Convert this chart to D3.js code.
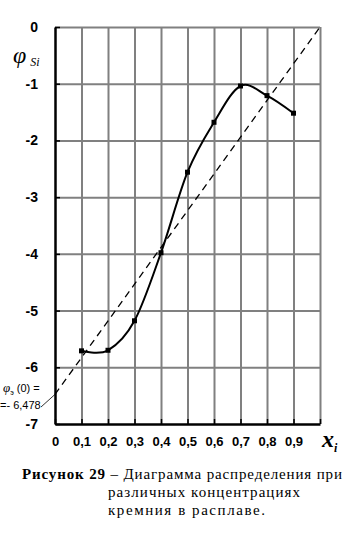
<!DOCTYPE html>
<html>
<head>
<meta charset="utf-8">
<script src="https://cdn.jsdelivr.net/npm/d3@7"></script>
<style>
body { margin: 0; background: #fff; }
svg { display: block; }
.tick-lbl { font-family: Arial, "Liberation Sans", sans-serif; font-weight: bold; }
.serif { font-family: "Times New Roman", "Liberation Serif", serif; }
</style>
</head>
<body>
<svg id="chart" width="353" height="551"></svg>
<script>
// concentration of Si in the melt
var xValues = [0.1, 0.2, 0.3, 0.4, 0.5, 0.6, 0.7, 0.8, 0.9];
// distribution values phi_Si
var phiValues = [-5.71, -5.70, -5.18, -3.98, -2.56, -1.68, -1.04, -1.21, -1.52];
// dashed trend line ends
var trendX = [0, 1];
var trendY = [-6.478, 0];

var xTicks = [0, 0.1, 0.2, 0.3, 0.4, 0.5, 0.6, 0.7, 0.8, 0.9];
var xTickLabels = ["0", "0,1", "0,2", "0,3", "0,4", "0,5", "0,6", "0,7", "0,8", "0,9"];
var yTicks = [0, -1, -2, -3, -4, -5, -6, -7];
var yTickLabels = ["0", "-1", "-2", "-3", "-4", "-5", "-6", "-7"];
var gridX = [0.1, 0.2, 0.3, 0.4, 0.5, 0.6, 0.7, 0.8, 0.9, 1.0];

var svg = d3.select("#chart");
var pL = 55, pR = 320, pT = 27, pB = 424;

var x = d3.scaleLinear().domain([0, 1]).range([pL, pR]);
var y = d3.scaleLinear().domain([-7, 0]).range([pB, pT]);

/// grid
var grid = svg.append("g");
grid.append("g")
    .attr("transform", "translate(0," + pB + ")")
    .call(d3.axisBottom(x).tickValues(gridX).tickSize(-(pB - pT)).tickFormat(""))
    .call(function(g){ g.select(".domain").remove(); });
grid.append("g")
    .attr("transform", "translate(" + pL + ",0)")
    .call(d3.axisLeft(y).tickValues(yTicks.slice(0, 7)).tickSize(-(pR - pL)).tickFormat(""))
    .call(function(g){ g.select(".domain").remove(); });
grid.selectAll(".tick line").attr("stroke", "#808080").attr("stroke-width", 2);

/// axes
var xa = svg.append("g")
    .attr("transform", "translate(0," + pB + ")")
    .call(d3.axisBottom(x).tickValues(xTicks.concat([1.0])).tickSizeInner(-5).tickSizeOuter(0)
        .tickPadding(13)
        .tickFormat(function(d, i){ return i < xTickLabels.length ? xTickLabels[i] : ""; }));
xa.select(".domain").attr("stroke", "#000").attr("stroke-width", 2.5);
xa.selectAll(".tick line").attr("stroke", "#000").attr("stroke-width", 1.5);
xa.selectAll("text").attr("class", "tick-lbl").attr("font-size", 13).attr("fill", "#000");

var ya = svg.append("g")
    .attr("transform", "translate(" + pL + ",0)")
    .call(d3.axisLeft(y).tickValues(yTicks).tickSizeInner(-5).tickSizeOuter(0)
        .tickPadding(17)
        .tickFormat(function(d, i){ return yTickLabels[i]; }));
ya.select(".domain").attr("stroke", "#000").attr("stroke-width", 2.5);
ya.selectAll(".tick line").attr("stroke", "#000").attr("stroke-width", 1.5);
ya.selectAll("text").attr("class", "tick-lbl").attr("font-size", 14).attr("fill", "#000");

/// dashed trend line
svg.append("path")
    .datum(d3.zip(trendX, trendY))
    .attr("fill", "none")
    .attr("stroke", "#000")
    .attr("stroke-width", 1.3)
    .attr("stroke-dasharray", "7,5")
    .attr("d", d3.line().x(function(d){ return x(d[0]); }).y(function(d){ return y(d[1]); }));

/// smooth curve
var pts = d3.zip(xValues, phiValues);
svg.append("path")
    .datum(pts)
    .attr("fill", "none")
    .attr("stroke", "#000")
    .attr("stroke-width", 2)
    .attr("d", d3.line().curve(d3.curveCardinal)
        .x(function(d){ return x(d[0]); }).y(function(d){ return y(d[1]); }));

svg.append("g").selectAll("rect")
    .data(pts)
  .enter().append("rect")
    .attr("x", function(d){ return x(d[0]) - 2.5; })
    .attr("y", function(d){ return y(d[1]) - 2.5; })
    .attr("width", 5).attr("height", 5)
    .attr("fill", "#000");

/// leader for intercept label
svg.append("line")
    .attr("x1", 41).attr("y1", 407)
    .attr("x2", x(trendX[0])).attr("y2", y(trendY[0]))
    .attr("stroke", "#000").attr("stroke-width", 0.8);

var lab = svg.append("text")
    .attr("font-family", "Arial, 'Liberation Sans', sans-serif")
    .attr("font-size", 11).attr("fill", "#000");
lab.append("tspan").attr("x", 3).attr("y", 392)
    .attr("font-family", "'Times New Roman', 'Liberation Serif', serif").attr("font-style", "italic")
    .attr("font-size", 13)
    .text("φ");
lab.append("tspan").attr("dy", 3).attr("font-size", 7).text("э");
lab.append("tspan").attr("dy", -3).text(" (0) =");
svg.append("text")
    .attr("x", 0).attr("y", 409)
    .attr("font-family", "Arial, 'Liberation Sans', sans-serif")
    .attr("font-size", 11).attr("fill", "#000")
    .text("=- 6,478");

/// axis titles
var yt = svg.append("text").attr("class", "serif").attr("font-style", "italic").attr("fill", "#000");
yt.append("tspan").attr("x", 13).attr("y", 63).attr("font-size", 24).text("φ");
yt.append("tspan").attr("dx", 4).attr("dy", 3).attr("font-size", 12).text("Si");

var xt = svg.append("text").attr("class", "serif").attr("font-style", "italic")
    .attr("font-weight", "bold").attr("fill", "#000");
xt.append("tspan").attr("x", 322).attr("y", 447).attr("font-size", 24).text("x");
xt.append("tspan").attr("dy", 5).attr("font-size", 12).text("i");

/// caption
var cap = svg.append("g").attr("class", "serif").attr("font-size", 15).attr("fill", "#000");
var l1 = cap.append("text").attr("x", 22).attr("y", 479)
    .attr("textLength", 320).attr("lengthAdjust", "spacing");
l1.append("tspan").attr("font-weight", "bold").text("Рисунок 29");
l1.append("tspan").text(" – Диаграмма распределения  при");
cap.append("text").attr("x", 108).attr("y", 497)
    .attr("textLength", 192).attr("lengthAdjust", "spacing").text("различных концентрациях");
cap.append("text").attr("x", 108).attr("y", 515)
    .attr("textLength", 157).attr("lengthAdjust", "spacing").text("кремния в расплаве.");
</script>
</body>
</html>
